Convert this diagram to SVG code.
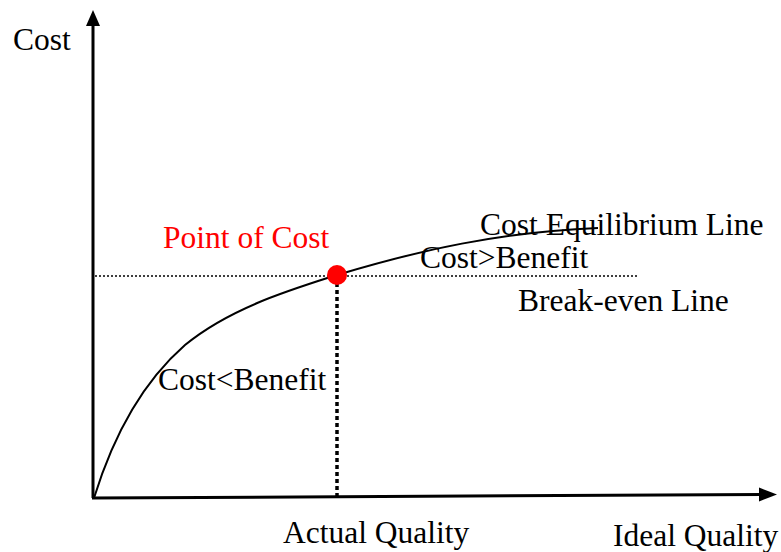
<svg xmlns="http://www.w3.org/2000/svg" width="781" height="552" viewBox="0 0 781 552">
<style>
.t{font-family:"Liberation Serif","Times New Roman",serif;font-size:31.5px;fill:#000}
.red{fill:#ff0000}
.axis{stroke:#000;stroke-width:3;fill:none}
.head{fill:#000}
</style>
<rect width="781" height="552" fill="#fff"/>
<g id="axes">
<line class="axis" x1="93" y1="498" x2="93" y2="24"/>
<polygon class="head" points="93,10 86,26 100,26"/>
<line class="axis" x1="92" y1="498" x2="762" y2="494.5"/>
<polygon class="head" points="777,494.5 759,487.5 759,501.5"/>
</g>
<g id="connectors">
<line x1="95" y1="276" x2="638" y2="276" stroke="#000" stroke-width="1.3" stroke-dasharray="2 2"/>
<line x1="337" y1="276" x2="337" y2="496" stroke="#000" stroke-width="3.5" stroke-dasharray="4 3"/>
<path d="M94,498 C115,430 145,380 185,345 C230,308 290,290 337,275 C420,250 500,232 598,228" fill="none" stroke="#000" stroke-width="2"/>
</g>
<g id="point">
<circle cx="337" cy="275" r="10" fill="#ff0000"/>
</g>
<g id="labels">
<text class="t" x="13" y="50">Cost</text>
<text class="t red" x="163" y="248">Point of Cost</text>
<text class="t" x="480" y="235">Cost Equilibrium Line</text>
<text class="t" x="420" y="268">Cost&gt;Benefit</text>
<text class="t" x="518" y="311">Break-even Line</text>
<text class="t" x="158" y="390">Cost&lt;Benefit</text>
<text class="t" x="283" y="543">Actual Quality</text>
<text class="t" x="613" y="546">Ideal Quality</text>
</g>
</svg>
